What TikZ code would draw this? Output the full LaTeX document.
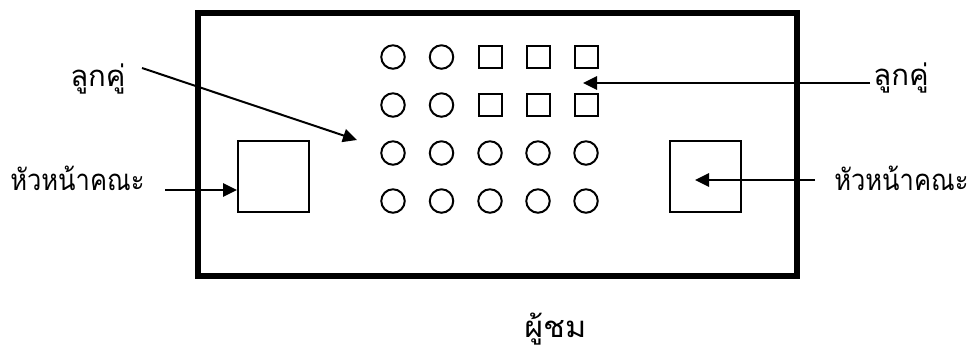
\documentclass[tikz,border=0pt]{standalone}
\usepackage{graphicx}
\usepackage{fontspec}
\newfontfamily\thaifont[Script=Thai]{Loma}
\usetikzlibrary{arrows.meta}
\tikzset{
  lbl/.style={font=\thaifont\fontsize{22pt}{26pt}\selectfont, inner sep=0pt, anchor=base west},
  bigbox/.style={draw, line width=1.5pt, minimum width=53.25pt, minimum height=53.25pt, inner sep=0pt},
  seat/.style={draw, circle, line width=1.5pt, minimum size=17.6pt, inner sep=0pt},
  sqseat/.style={draw, rectangle, line width=1.5pt, minimum width=17.25pt, minimum height=16.5pt, inner sep=0pt},
  arr/.style={line width=1.5pt, -{Triangle[length=10.5pt,width=10pt]}}
}
\begin{document}
\begin{tikzpicture}[x=0.75pt,y=-0.75pt]
\useasboundingbox (0,0) rectangle (976,351);
\draw[line width=4.5pt] (198,12.5) rectangle (797,276);
% big boxes
\node[bigbox] (sqL) at (273.5,176.5) {};
\node[bigbox] (sqR) at (705.5,176.5) {};
% seats
\foreach \r/\y in {1/57,2/105}{
  \node[seat] (s\r1) at (393,\y) {};
  \node[seat] (s\r2) at (441.5,\y) {};
  \node[sqseat] (s\r3) at (490,\y) {};
  \node[sqseat] (s\r4) at (538,\y) {};
  \node[sqseat] (s\r5) at (586,\y) {};
}
\foreach \r/\y in {3/153,4/201}{
  \node[seat] (s\r1) at (393,\y) {};
  \node[seat] (s\r2) at (441.5,\y) {};
  \node[seat] (s\r3) at (490,\y) {};
  \node[seat] (s\r4) at (538,\y) {};
  \node[seat] (s\r5) at (586,\y) {};
}
% labels
\node[lbl] (lkL) at (70,86) {ลูกคู่};
\node[lbl] (lkR) at (873,85) {ลูกคู่};
\node[lbl] (hnL) at (10,190) {\scalebox{0.87}[1]{หัวหน้าคณะ}};
\node[lbl] (hnR) at (834,190) {\scalebox{0.87}[1]{หัวหน้าคณะ}};
\node[lbl] (aud) at (524,337) {\scalebox{1.1}[1]{ผู้ชม}};
% arrow ends
\coordinate (aLs) at (142,68);
\coordinate (aLe) at (357,140);
\coordinate (aRs) at (870,83);
\coordinate (aRe) at (583,83);
\coordinate (hLs) at (165,190);
\coordinate (hLe) at (237,190);
\coordinate (hRs) at (815,180);
\coordinate (hRe) at (695,180);
\draw[arr] (aLs) -- (aLe);
\draw[arr] (aRs) -- (aRe);
\draw[arr] (hLs) -- (hLe);
\draw[arr] (hRs) -- (hRe);
\end{tikzpicture}
\end{document}
